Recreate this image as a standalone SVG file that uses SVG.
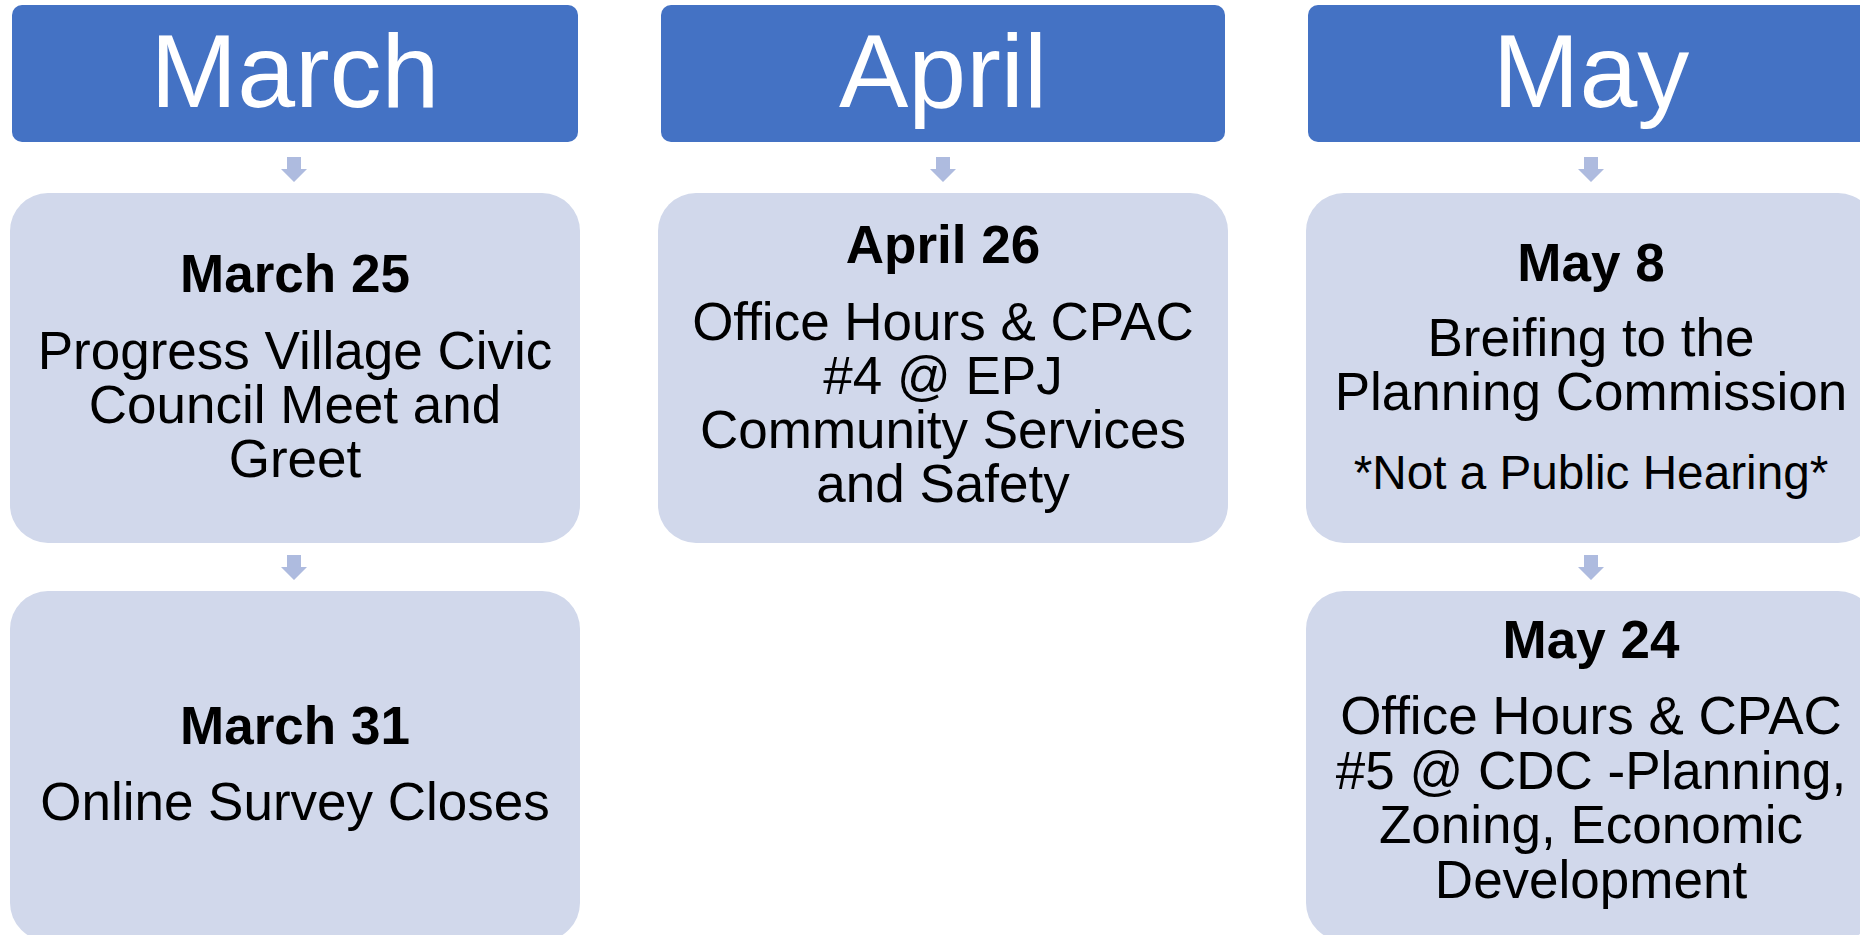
<svg xmlns="http://www.w3.org/2000/svg" width="1860" height="935" viewBox="0 0 1860 935">
<defs>
<style>
.hdr{fill:#4472C4;}
.box{fill:#D1D8EB;}
.arr{fill:#AEBBDF;}
.ht{font-family:"Liberation Sans",Arial,sans-serif;font-size:104px;fill:#FFFFFF;text-anchor:middle;}
.tt{font-family:"Liberation Sans",Arial,sans-serif;font-size:53px;font-weight:bold;fill:#000000;text-anchor:middle;}
.bt{font-family:"Liberation Sans",Arial,sans-serif;font-size:53px;fill:#000000;text-anchor:middle;}
.nt{font-family:"Liberation Sans",Arial,sans-serif;font-size:47.7px;fill:#000000;text-anchor:middle;}
</style>
<path id="darrow" d="M-7,0 H7 V12 H13 L0,25 L-13,12 H-7 Z"/>
</defs>
<rect width="1860" height="935" fill="#FFFFFF"/>
<g id="connectors">
<use href="#darrow" class="arr" x="294" y="157"/>
<use href="#darrow" class="arr" x="294" y="555"/>
<use href="#darrow" class="arr" x="943" y="157"/>
<use href="#darrow" class="arr" x="1591" y="157"/>
<use href="#darrow" class="arr" x="1591" y="555"/>
</g>
<g id="hdr-march">
<rect class="hdr" x="12" y="5" width="566" height="137" rx="10"/>
<text class="ht" x="295" y="107">March</text>
</g>
<g id="hdr-april">
<rect class="hdr" x="661" y="5" width="564" height="137" rx="10"/>
<text class="ht" x="943" y="107">April</text>
</g>
<g id="hdr-may">
<rect class="hdr" x="1308" y="5" width="566" height="137" rx="10"/>
<text class="ht" x="1591" y="107">May</text>
</g>
<g id="march25">
<rect class="box" x="10" y="193" width="570" height="350" rx="38"/>
<text class="tt" x="295" y="292">March 25</text>
<text class="bt" x="295" y="369">Progress Village Civic</text>
<text class="bt" x="295" y="423">Council Meet and</text>
<text class="bt" x="295" y="477">Greet</text>
</g>
<g id="march31">
<rect class="box" x="10" y="591" width="570" height="350" rx="38"/>
<text class="tt" x="295" y="744">March 31</text>
<text class="bt" x="295" y="820">Online Survey Closes</text>
</g>
<g id="april26">
<rect class="box" x="658" y="193" width="570" height="350" rx="38"/>
<text class="tt" x="943" y="263">April 26</text>
<text class="bt" x="943" y="340">Office Hours &amp; CPAC</text>
<text class="bt" x="943" y="394">#4 @ EPJ</text>
<text class="bt" x="943" y="448">Community Services</text>
<text class="bt" x="943" y="502">and Safety</text>
</g>
<g id="may8">
<rect class="box" x="1306" y="193" width="570" height="350" rx="38"/>
<text class="tt" x="1591" y="281">May 8</text>
<text class="bt" x="1591" y="356">Breifing to the</text>
<text class="bt" x="1591" y="410">Planning Commission</text>
<text class="nt" x="1591" y="489">*Not a Public Hearing*</text>
</g>
<g id="may24">
<rect class="box" x="1306" y="591" width="570" height="350" rx="38"/>
<text class="tt" x="1591" y="658">May 24</text>
<text class="bt" x="1591" y="734">Office Hours &amp; CPAC</text>
<text class="bt" x="1591" y="789">#5 @ CDC -Planning,</text>
<text class="bt" x="1591" y="843">Zoning, Economic</text>
<text class="bt" x="1591" y="898">Development</text>
</g>
</svg>
